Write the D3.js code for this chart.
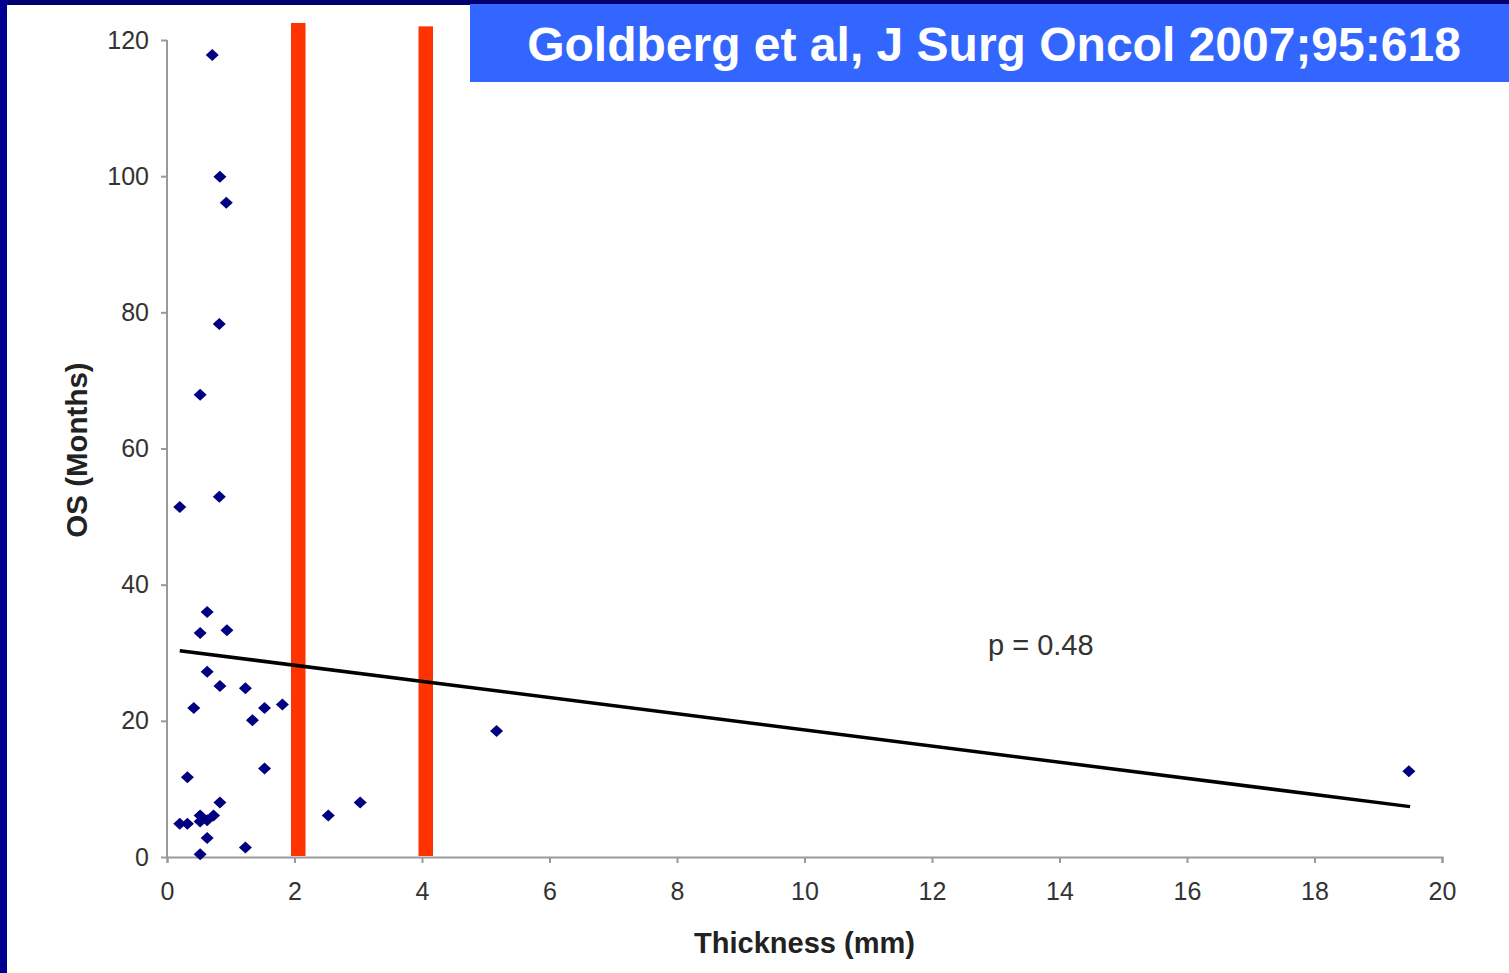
<!DOCTYPE html>
<html>
<head>
<meta charset="utf-8">
<script src="https://cdn.jsdelivr.net/npm/d3@7"></script>
<style>
  html, body { margin: 0; padding: 0; background: #00006e; }
  svg { display: block; }
  text { font-family: "Liberation Sans", Arial, sans-serif; }
</style>
</head>
<body>
<svg id="chart" width="1509" height="973"></svg>
<script>
// Tumour thickness (mm) vs overall survival (months)
const thickness = [0.71, 0.83, 0.93, 0.82, 0.52, 0.82, 0.20, 0.63, 0.52, 0.94,
                   0.63, 0.83, 1.23, 0.42, 1.53, 1.81, 1.34, 5.17, 0.32, 1.53,
                   0.83, 3.03, 2.53, 0.20, 0.32, 0.52, 0.52, 0.63, 0.73, 0.63,
                   0.52, 1.23, 19.48];
const survival  = [117.8, 99.9, 96.1, 78.3, 67.9, 52.9, 51.4, 36.0, 32.9, 33.3,
                   27.2, 25.1, 24.8, 21.9, 21.9, 22.4, 20.1, 18.5, 11.7, 13.0,
                   8.0, 8.0, 6.1, 4.9, 4.9, 6.1, 5.2, 5.4, 6.1, 2.8,
                   0.4, 1.4, 12.6];

// Linear trend line end points
const trendX = [0.2, 19.5];
const trendY = [30.3, 7.4];

// Thickness cut-off markers (mm) and their heights
const cutoffs = [2, 4];
const cutoffTop = [122.5, 122.0];

const xTicks = [0, 2, 4, 6, 8, 10, 12, 14, 16, 18, 20];
const yTicks = [0, 20, 40, 60, 80, 100, 120];

const titleText = "Goldberg et al, J Surg Oncol 2007;95:618";
const pText = "p = 0.48";

const svg = d3.select("#chart");

// slide frame
svg.append("rect").attr("x", 0).attr("y", 0).attr("width", 1509).attr("height", 973).attr("fill", "#00006e");
svg.append("rect").attr("x", 0).attr("y", 0).attr("width", 8).attr("height", 973).attr("fill", "#000090");
svg.append("rect").attr("x", 7).attr("y", 5).attr("width", 1502).attr("height", 968).attr("fill", "#ffffff");

const x = d3.scaleLinear().domain([0, 20]).range([167, 1442]);
const y = d3.scaleLinear().domain([0, 120]).range([857, 40]);

// axes
const xAxis = svg.append("g")
  .attr("transform", `translate(0,${y(0)})`)
  .call(d3.axisBottom(x).tickValues(xTicks).tickSize(6).tickPadding(14).tickFormat(d3.format("d")));
const yAxis = svg.append("g")
  .attr("transform", `translate(${x(0)},0)`)
  .call(d3.axisLeft(y).tickValues(yTicks).tickSize(6).tickPadding(12).tickFormat(d3.format("d")));

[xAxis, yAxis].forEach(g => {
  g.select(".domain").attr("stroke", "#9a9a9a").attr("stroke-width", 2);
  g.selectAll(".tick line").attr("stroke", "#9a9a9a").attr("stroke-width", 2);
  g.selectAll(".tick text").attr("fill", "#333").style("font-size", "25px")
    .style("font-family", "'Liberation Sans', Arial, sans-serif");
});
xAxis.selectAll(".tick text").attr("dy", "0.9em");
yAxis.select(".domain").attr("d", `M0,${y(120)}V${y(0)}`);

// cut-off bars
svg.append("g").selectAll("rect").data(cutoffs).join("rect")
  .attr("x", d => x(d) - 3.5)
  .attr("width", 14.5)
  .attr("y", (d, i) => y(cutoffTop[i]))
  .attr("height", (d, i) => y(0) - y(cutoffTop[i]) - 1)
  .attr("fill", "#ff3300");

// trend line
svg.append("line")
  .attr("x1", x(trendX[0])).attr("y1", y(trendY[0]))
  .attr("x2", x(trendX[1])).attr("y2", y(trendY[1]))
  .attr("stroke", "#000").attr("stroke-width", 3.5);

// data points (diamonds)
const pts = thickness.map((t, i) => ({ t, s: survival[i] }));
svg.append("g").selectAll("path").data(pts).join("path")
  .attr("transform", d => `translate(${x(d.t)},${y(d.s)})`)
  .attr("d", "M0,-6L6.5,0L0,6L-6.5,0Z")
  .attr("fill", "#000080");

// p value
svg.append("text")
  .attr("x", 988).attr("y", 655)
  .attr("fill", "#333")
  .style("font-size", "29px")
  .text(pText);

// axis titles
svg.append("text")
  .attr("x", (x(0) + x(20)) / 2).attr("y", 953)
  .attr("text-anchor", "middle")
  .attr("fill", "#222")
  .style("font-size", "29px").style("font-weight", "bold")
  .text("Thickness (mm)");
svg.append("text")
  .attr("transform", `translate(87,450) rotate(-90)`)
  .attr("text-anchor", "middle")
  .attr("fill", "#222")
  .style("font-size", "29.5px").style("font-weight", "bold")
  .text("OS (Months)");

// title banner
svg.append("rect").attr("x", 470).attr("y", 4).attr("width", 1039).attr("height", 78).attr("fill", "#3366ff");
svg.append("text")
  .attr("x", 994).attr("y", 61)
  .attr("text-anchor", "middle")
  .attr("fill", "#ffffff")
  .style("font-size", "48px").style("font-weight", "bold")
  .text(titleText);
</script>
</body>
</html>
